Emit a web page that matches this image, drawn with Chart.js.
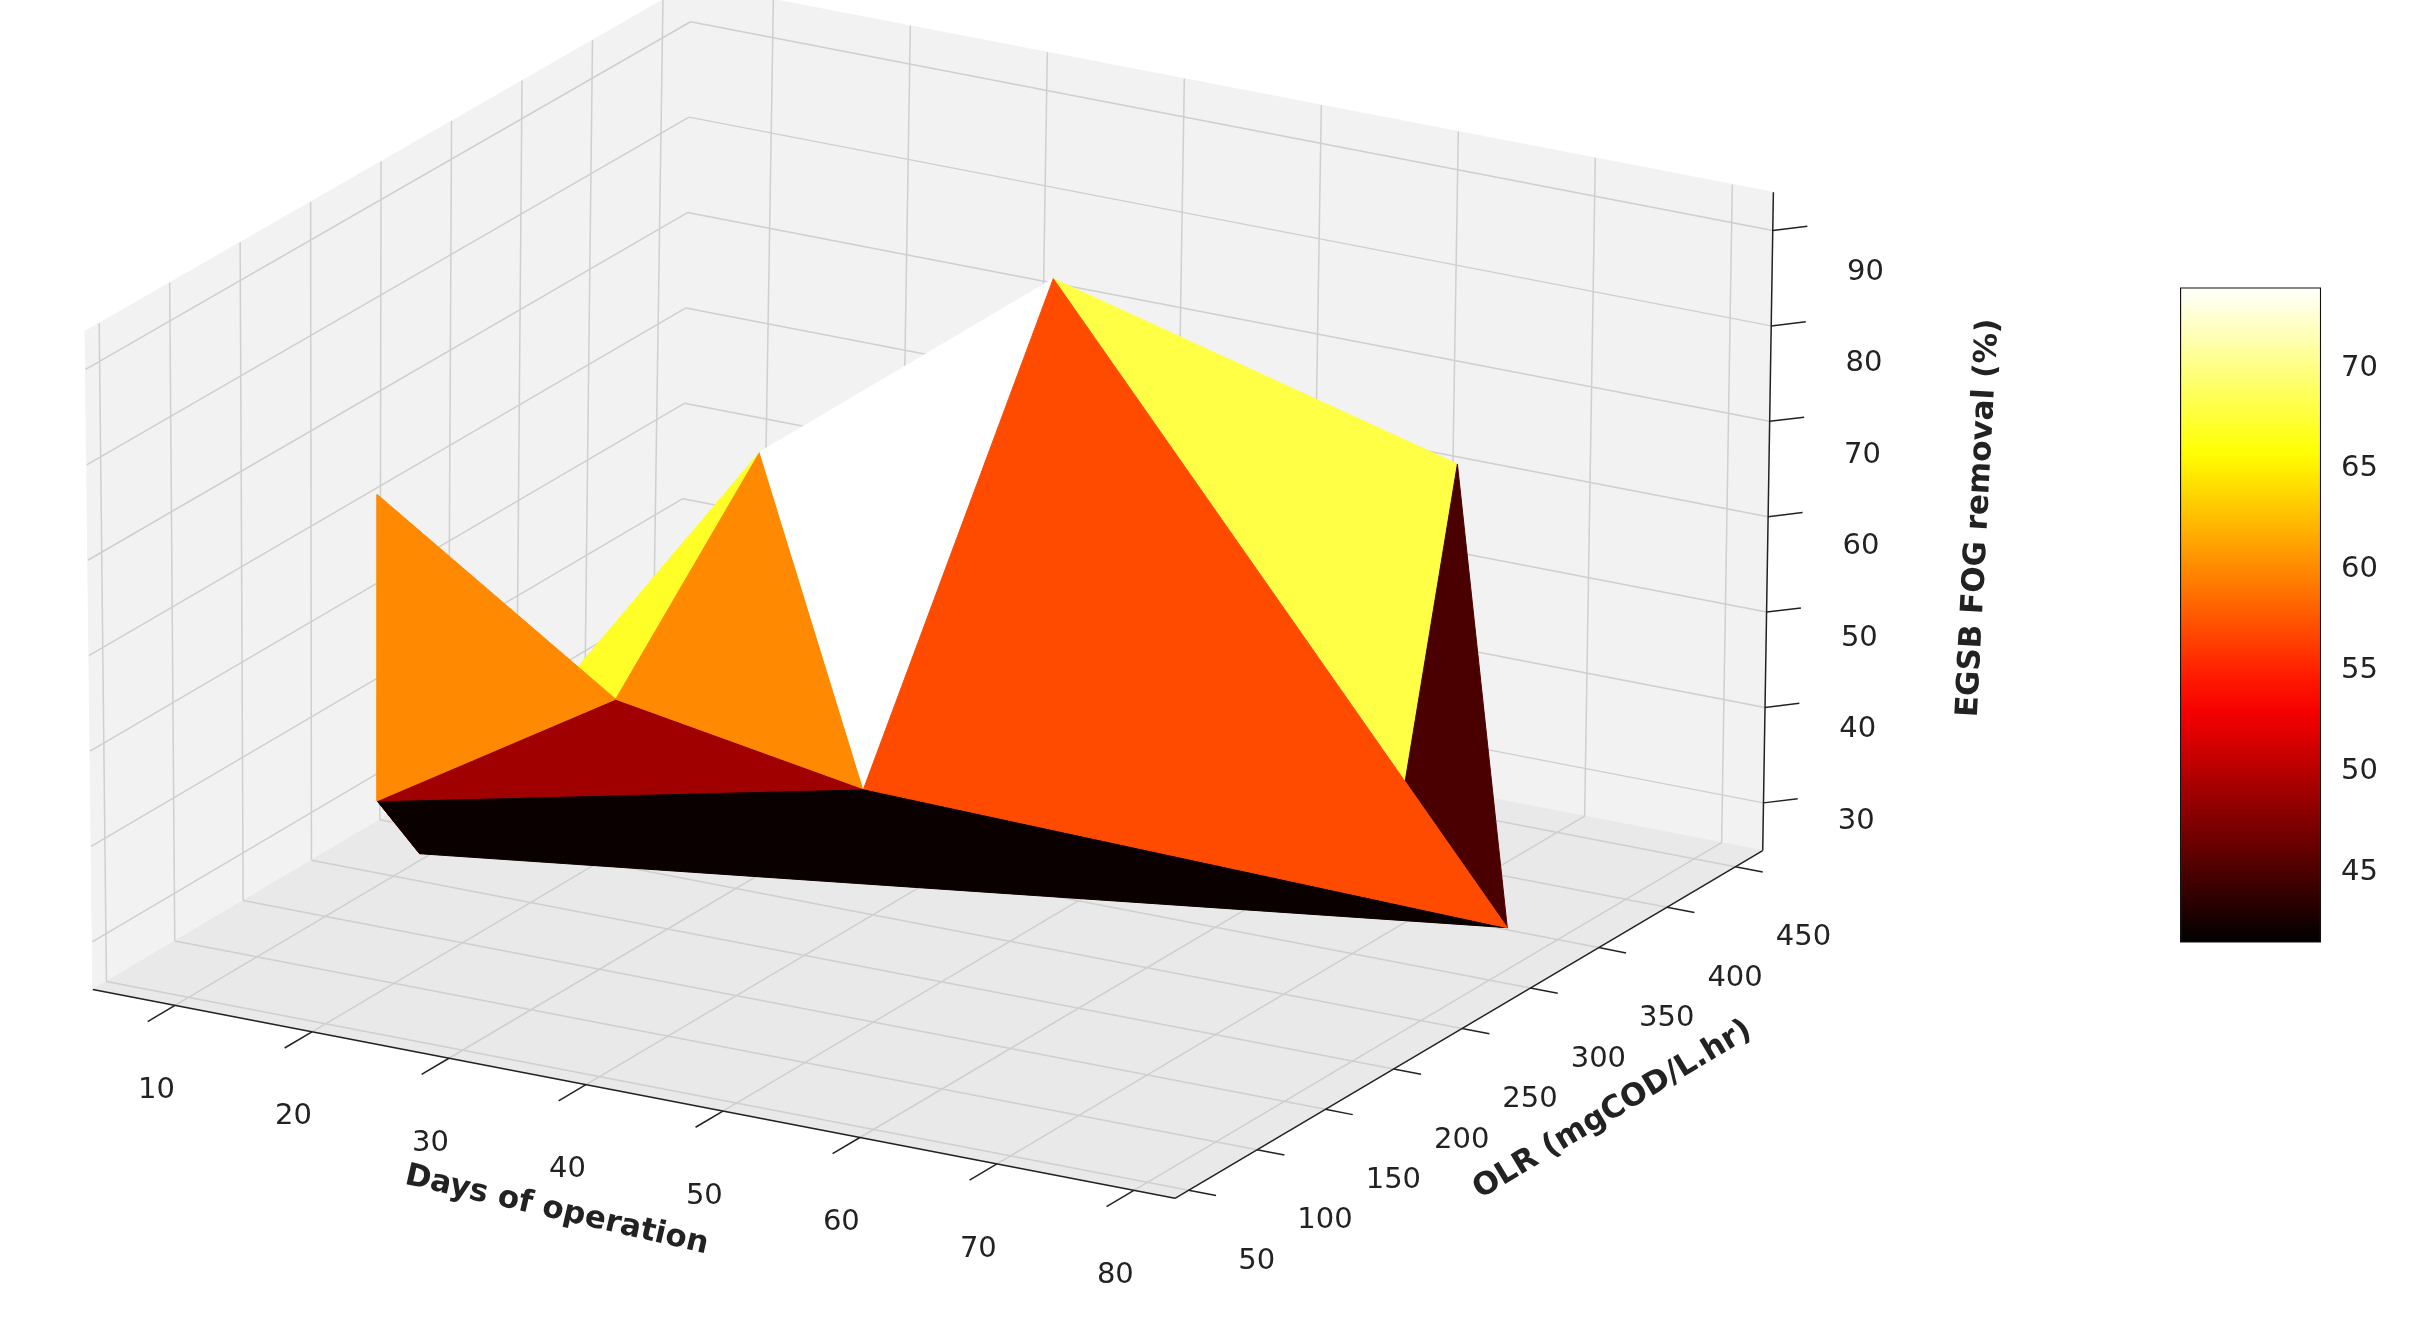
<!DOCTYPE html>
<html><head><meta charset="utf-8">
<script src="https://cdn.jsdelivr.net/npm/chart.js@4.4.0/dist/chart.umd.min.js"></script>
<style>
html,body{margin:0;padding:0;background:#fff;overflow:hidden}
#main{position:absolute;left:0;top:0;width:2412px;height:1317px}
#cb{position:absolute;left:2180px;top:258px;width:210px;height:714px}
</style></head><body>
<div id="main"><canvas id="c1"></canvas></div>
<div id="cb"><canvas id="c2"></canvas></div>
<script>
// ---- data ----
const days    = [6, 10, 13, 22, 26, 40, 46, 72, 75, 80];
const olr     = [228, 188, 189, 242, 306, 243, 319, 354, 288, 313];
const removal = [61.5, 33.9, 29.1, 43.3, 64.9, 38.8, 87.5, 72.3, 45.5, 29.4];
// triangles (back to front) and face colour value
const triangles = [[2,3,4],[2,1,3],[1,2,9],[1,5,9],[1,3,5],[0,1,3],[3,4,5],[4,6,5],[6,7,8],[7,8,9],[6,5,9]];
const faceRemoval = [67, 52, 42, 42, 49, 60, 60, 74, 68, 45, 57];
const dayTicks = [10,20,30,40,50,60,70,80];
const olrTicks = [50,100,150,200,250,300,350,400,450];
const zTicks = [30,40,50,60,70,80,90];
const cbTicks = [45,50,55,60,65,70];
const cbMin = 41.5, cbMax = 74;

// ---- view ----
const DMIN=4, DMAX=83, OMIN=40, OMAX=470, ZMIN=25, ZMAX=94;
const SX=2412/1560;
function P(d,o,z){
  return {x:60+8.86*(d-DMIN)+0.884*(o-OMIN)+0.1*(z-ZMIN)-0.004*(OMAX-o)*(z-ZMIN)*0.1,
          y:640+1.709*(d-DMIN)-0.523*(o-OMIN)-6.17*(z-ZMIN)};
}
function hot(v){
  const t=Math.max(0,Math.min(1,(v-cbMin)/(cbMax-cbMin)));
  const r=Math.min(1,t/0.365), g=Math.max(0,Math.min(1,(t-0.365)/0.381)), b=Math.max(0,Math.min(1,(t-0.746)/0.254));
  return `rgb(${Math.round(r*255)},${Math.round(g*255)},${Math.round(b*255)})`;
}
const sets=[];
function poly(pts,fillCol,lineCol,w){
  sets.push({data:pts.concat([pts[0]]),fill:fillCol?'shape':false,backgroundColor:fillCol||'rgba(0,0,0,0)',
    borderColor:lineCol,borderWidth:w,pointRadius:0,tension:0});
}
function line(a,b,col,w){sets.push({data:[a,b],fill:false,borderColor:col,borderWidth:w,pointRadius:0,tension:0});}
// panes
poly([P(DMIN,OMIN,ZMIN),P(DMIN,OMAX,ZMIN),P(DMIN,OMAX,ZMAX),P(DMIN,OMIN,ZMAX)],'#f2f2f2','#f2f2f2',1);
poly([P(DMIN,OMAX,ZMIN),P(DMAX,OMAX,ZMIN),P(DMAX,OMAX,ZMAX),P(DMIN,OMAX,ZMAX)],'#f2f2f2','#f2f2f2',1);
poly([P(DMIN,OMIN,ZMIN),P(DMAX,OMIN,ZMIN),P(DMAX,OMAX,ZMIN),P(DMIN,OMAX,ZMIN)],'#e9e9e9','#e9e9e9',1);
const G='#cfcfcf';
dayTicks.forEach(d=>{line(P(d,OMIN,ZMIN),P(d,OMAX,ZMIN),G,1.5);line(P(d,OMAX,ZMIN),P(d,OMAX,ZMAX),G,1.5);});
olrTicks.forEach(o=>{line(P(DMIN,o,ZMIN),P(DMAX,o,ZMIN),G,1.5);line(P(DMIN,o,ZMIN),P(DMIN,o,ZMAX),G,1.5);});
zTicks.forEach(z=>{line(P(DMIN,OMIN,z),P(DMIN,OMAX,z),G,1.5);line(P(DMIN,OMAX,z),P(DMAX,OMAX,z),G,1.5);});
// axis lines and ticks
line(P(DMIN,OMIN,ZMIN),P(DMAX,OMIN,ZMIN),'#222',1.5);
line(P(DMAX,OMIN,ZMIN),P(DMAX,OMAX,ZMIN),'#222',1.5);
line(P(DMAX,OMAX,ZMIN),P(DMAX,OMAX,ZMAX),'#222',1.5);
dayTicks.forEach(d=>line(P(d,OMIN,ZMIN),P(d,OMIN-20,ZMIN),'#222',1.5));
olrTicks.forEach(o=>line(P(DMAX,o,ZMIN),P(DMAX+2,o,ZMIN),'#222',1.5));
zTicks.forEach(z=>line(P(DMAX,OMAX,z),P(DMAX+1.5,OMAX+10,z),'#222',1.5));
// surface
triangles.forEach((t,i)=>{
  const c=hot(faceRemoval[i]);
  poly(t.map(k=>P(days[k],olr[k],removal[k])),c,c,1);
});
sets.reverse();

const labelPlugin={id:'labels',afterDraw(chart){
  const c=chart.ctx,xs=chart.scales.x,ys=chart.scales.y;
  const px=p=>({x:xs.getPixelForValue(p.x),y:ys.getPixelForValue(p.y)});
  c.save();c.fillStyle='#222';c.textAlign='center';c.textBaseline='middle';
  c.font='29px "DejaVu Sans"';
  dayTicks.forEach(d=>{const p=P(d,OMIN,ZMIN);const q=px({x:p.x-12,y:p.y+55});c.fillText(String(d),q.x,q.y);});
  olrTicks.forEach(o=>{const p=P(DMAX,o,ZMIN);const q=px({x:p.x+44,y:p.y+46});c.fillText(String(o),q.x,q.y);});
  zTicks.forEach(z=>{const p=P(DMAX,OMAX,z);const q=px({x:p.x+60,y:p.y+12+(z-30)*0.25});c.fillText(String(z),q.x,q.y);});
  c.font='bold 31px "DejaVu Sans"';
  const txt=(s,x,y,a)=>{const q=px({x,y});c.save();c.translate(q.x,q.y);c.rotate(a*Math.PI/180);c.fillText(s,0,0);c.restore();};
  txt('Days of operation',360,783,13);
  txt('OLR (mgCOD/L.hr)',1043,718,-31);
  txt('EGSB FOG removal (%)',1280,335,-87);
  c.restore();
}};

new Chart(document.getElementById('c1'),{type:'line',data:{datasets:sets},
  options:{responsive:true,maintainAspectRatio:false,animation:false,
    layout:{padding:0},
    plugins:{legend:{display:false},tooltip:{enabled:false}},
    scales:{x:{type:'linear',min:0,max:1560,display:false},y:{type:'linear',min:0,max:1317/SX,reverse:true,display:false}}},
  plugins:[labelPlugin]});

new Chart(document.getElementById('c2'),{type:'bar',
  data:{labels:[''],datasets:[{data:[[cbMin,cbMax]],borderColor:'#111',borderWidth:1.5,borderSkipped:false,
    barPercentage:1,categoryPercentage:1,
    backgroundColor:(ctx)=>{const ch=ctx.chart,a=ch.chartArea;if(!a)return '#f00';
      const g=ch.ctx.createLinearGradient(0,a.bottom,0,a.top);
      for(let i=0;i<=20;i++){g.addColorStop(i/20,hot(cbMin+(cbMax-cbMin)*i/20));}return g;}}]},
  options:{responsive:true,maintainAspectRatio:false,animation:false,layout:{padding:0},
    plugins:{legend:{display:false},tooltip:{enabled:false}},
    scales:{x:{display:false},
      y:{position:'right',min:cbMin,max:cbMax,grid:{display:false,drawTicks:true},border:{display:false},
        afterBuildTicks:(ax)=>{ax.ticks=cbTicks.map(v=>({value:v}));},
        ticks:{color:'#222',font:{size:29,family:'DejaVu Sans'},padding:12}}}}});
</script></body></html>
